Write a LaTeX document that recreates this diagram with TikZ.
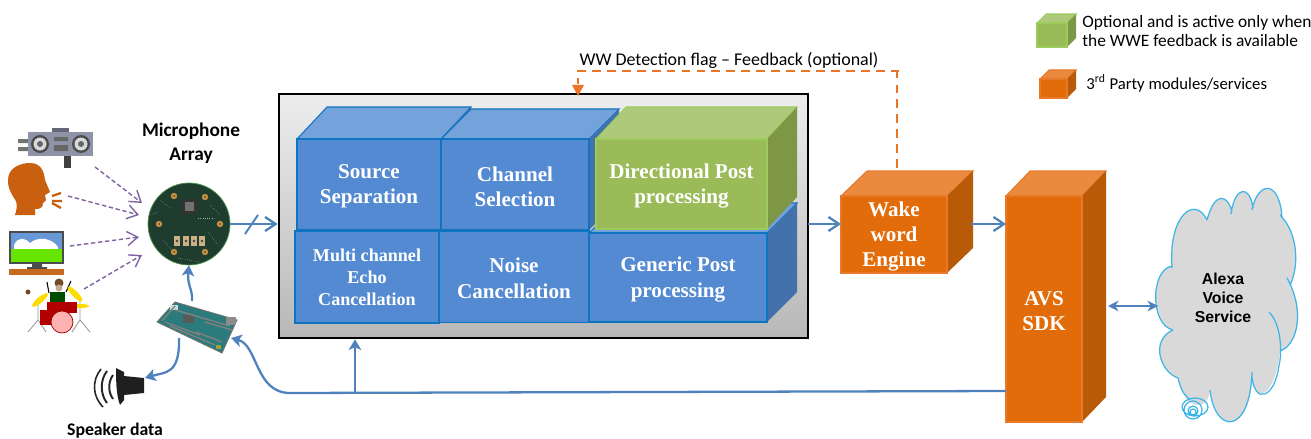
\documentclass[tikz,border=0pt]{standalone}
\usepackage{fontspec}
\setmainfont{Liberation Serif}
\newfontfamily\calib{Carlito}
\newfontfamily\hsans{Liberation Sans}
\usetikzlibrary{arrows.meta,calc}
\definecolor{bluF}{HTML}{538AD2}\definecolor{bluT}{HTML}{74A3DC}\definecolor{bluS}{HTML}{4271AB}\definecolor{bluE}{HTML}{0F74C0}
\definecolor{grnF}{HTML}{9BBB59}\definecolor{grnT}{HTML}{AFC97A}\definecolor{grnS}{HTML}{7D9744}\definecolor{grnE}{HTML}{9CCC5C}
\definecolor{ornF}{HTML}{E36C0A}\definecolor{ornT}{HTML}{E98A3E}\definecolor{ornS}{HTML}{B85A08}\definecolor{ornE}{HTML}{E8782A}
\definecolor{lnk}{HTML}{4F81BD}\definecolor{prp}{HTML}{8064A2}\definecolor{dsh}{HTML}{E97525}
\definecolor{cldE}{HTML}{3DB5E6}\definecolor{cldF}{HTML}{D9D9D9}
\definecolor{pcb}{HTML}{1F3D2E}\definecolor{pad}{HTML}{C9913C}\definecolor{brd}{HTML}{2B7B7C}\definecolor{hd}{HTML}{C8600F}
\definecolor{boomB}{HTML}{8E93A8}
\tikzset{
  link/.style={draw=lnk,line width=1.3pt,-{Straight Barb[length=6pt,width=8pt]}},
  curvelink/.style={draw=lnk,line width=1.3pt,-{Stealth[length=6pt,width=7pt,inset=1.5pt]}},
  mix/.style={draw=prp,line width=.8pt,dash pattern=on 2.5pt off 1.5pt,-{Straight Barb[length=6pt,width=8pt]}},
  flag/.style={draw=dsh,line width=1.4pt,dash pattern=on 5pt off 3.5pt},
  blocklabel/.style={font=\fontsize{12}{14.4}\selectfont\bfseries,text=white,align=center,inner sep=0pt},
  legendtext/.style={font=\calib\fontsize{9.9}{10.9}\selectfont,anchor=west,align=left,inner sep=0pt},
  headlabel/.style={font=\calib\bfseries\fontsize{11}{13.6}\selectfont,align=center,inner sep=0pt}
}
% name x1 y1 x2 y2 dx dy colourprefix text
\newcommand{\cubeN}[9]{%
  \fill[#8T,draw=#8E,line width=.6pt] (#2,#3)--(#2+#6,#3-#7)--(#4+#6,#3-#7)--(#4,#3)--cycle;
  \fill[#8S] (#4,#3)--(#4+#6,#3-#7)--(#4+#6,#5-#7)--(#4,#5)--cycle;
  \node[fill=#8F,draw=#8E,line width=.7pt,inner sep=0pt,
        minimum width={(#4-#2)*0.02cm},minimum height={(#5-#3)*0.02cm}] (#1) at ({(#2+#4)/2},{(#3+#5)/2}) {};
  \node[blocklabel] (#1text) at ([yshift=-1.2pt]#1.center) {#9};
}
\begin{document}
\begin{tikzpicture}[x=0.02cm,y=-0.02cm]
\useasboundingbox (0,0) rectangle (1311,439);
% container
\node[draw=black,line width=1.5pt,top color=black!7,bottom color=black!28,inner sep=0pt,
      minimum width={529*0.02cm},minimum height={244*0.02cm}] (frame) at (543.5,216) {};
% blocks
\cubeN{gen}{589}{233}{767}{322}{30}{30}{blu}{Generic Post\\processing}
\cubeN{src}{297}{139}{441}{230}{30}{32}{blu}{Source\\Separation}
\cubeN{chan}{441}{139}{589}{230}{30}{30}{blu}{Channel\\Selection}
\cubeN{dir}{596}{139}{767}{229}{30}{32}{grn}{Directional Post\\processing}
\node[fill=bluF,draw=bluE,line width=.7pt,minimum width={150*0.02cm},minimum height={91*0.02cm},inner sep=0pt] (noise) at (514,277) {};
\node[blocklabel] (noisetext) at ([yshift=-.8pt]noise.center) {Noise\\Cancellation};
\node[fill=bluF,draw=bluE,line width=.7pt,inner sep=0pt,blocklabel,font=\fontsize{10.3}{12.6}\selectfont\bfseries,minimum width={144*0.02cm},minimum height={92*0.02cm}] (echo) at (367,277) {Multi channel\\Echo\\Cancellation};
\cubeN{wwe}{841}{196}{947}{273}{26}{25}{orn}{\fontsize{12}{14.8}\selectfont Wake\\word\\Engine}
\cubeN{avs}{1006}{196}{1082}{422}{24}{25}{orn}{AVS\\SDK}
% cloud
\path[fill=cldF] (1207,220) .. controls (1215,190) and (1228,195) .. (1232,212)
 .. controls (1235,185) and (1250,185) .. (1253,208)
 .. controls (1258,180) and (1280,180) .. (1282,218)
 .. controls (1300,235) and (1298,270) .. (1290,285)
 .. controls (1305,310) and (1298,345) .. (1280,351)
 .. controls (1275,398) and (1255,405) .. (1252,377)
 .. controls (1250,435) and (1215,435) .. (1210,390)
 .. controls (1208,412) and (1185,412) .. (1178,378)
 .. controls (1160,372) and (1150,340) .. (1173,330)
 .. controls (1150,325) and (1150,270) .. (1172,266)
 .. controls (1168,215) and (1195,195) .. (1207,220) -- cycle;
\draw[cldE,line width=.7pt] (1207,220) .. controls (1215,190) and (1228,195) .. (1232,212)
 (1231,214) .. controls (1235,185) and (1250,185) .. (1253,208)
 (1252,210) .. controls (1258,180) and (1280,180) .. (1282,218)
 (1280,215) .. controls (1300,235) and (1298,270) .. (1290,285)
 (1287,278) .. controls (1305,310) and (1298,345) .. (1280,351)
 (1269,312) .. controls (1282,325) and (1282,355) .. (1279,365)
 .. controls (1275,398) and (1255,405) .. (1252,377)
 (1252,372) .. controls (1250,435) and (1215,435) .. (1210,390)
 (1178,378) .. controls (1160,372) and (1150,340) .. (1173,330)
 (1173,330) .. controls (1150,325) and (1150,270) .. (1172,266)
 (1172,268) .. controls (1168,215) and (1195,195) .. (1207,220)
 (1178,378) .. controls (1182,395) and (1186,395) .. (1190,400);
\draw[cldE,line width=.7pt] (1195,407) ellipse (13 and 9) (1193,410) circle (9) (1193,411) circle (5) (1193,412) circle (3);
\node[font=\hsans\bfseries\fontsize{9}{11}\selectfont,align=center,inner sep=0pt] (alexa) at (1223,298) {Alexa\\Voice\\Service};
% microphone array
\node[circle,fill=pcb,draw=black!30!green!40!gray,line width=.4pt,minimum size={82*0.02cm},inner sep=0pt] (mic) at (189,224) {};
\foreach \px/\py in {174/196,220/224,205/252,174/252,159/224,205/197}{\fill[pad] (\px,\py) circle (3.2);\fill[black!70] (\px,\py) circle (1);}
\fill[black!80] (182,199) rectangle (197,214);\fill[black!55] (185,202) rectangle (194,211);
\foreach \bx in {177,186,194,202}{\fill[black!15!pad!60!white] (\bx-3,236) rectangle (\bx+3,246);\fill[black!75] (\bx,241) circle (1.4);}
\foreach \sx/\sy/\ex/\ey in {160/200/170/208,210/205/220/215,163/240/172/250,208/232/218/245,150/215/158/212,178/258/200/262,198/218/214/218}{\draw[white!60!pcb,line width=.3pt,densely dotted] (\sx,\sy)--(\ex,\ey);}
\node[headlabel] (miclabel) at (191,143) {Microphone\\Array};
% sources: boombox
\coordinate (boom) at (95,167);
\fill[black!55] (18,139) rectangle (29,143) (18,147) rectangle (29,151);
\fill[boomB!70!black] (52,128) rectangle (69,133);
\fill[boomB] (28,132) rectangle (93,156);
\foreach \cx in {40,81}{\fill[black!70] (\cx,144) circle (9);\fill[black!15] (\cx,144) circle (6.5);\fill[black!60] (\cx,144) circle (3);}
\fill[black!60] (54,137) rectangle (68,141) (54,145) rectangle (68,151);
\fill[black!75] (64,156) rectangle (71,168);
% head
\coordinate (head) at (68,196);
\fill[hd] (15,215) .. controls (18,205) and (17,202) .. (14,198) .. controls (9,190) and (8,186) .. (8,180) .. controls (8,168) and (20,163) .. (30,163)
 .. controls (40,163) and (44,170) .. (45,180) -- (50,192) -- (45,195) -- (46,200) -- (43,203) .. controls (43,208) and (40,209) .. (35,209) -- (35,215) -- cycle;
\draw[hd,line width=1.3pt] (52,196)--(61,193) (52,201)--(62,201) (52,203)--(61,208);
% tv
\coordinate (tv) at (70,246);
\fill[black!70] (9,231) rectangle (64,264);
\fill[white!55!cyan!70!blue] (11,233) rectangle (62,250);
\fill[white] (14,245) .. controls (18,236) and (26,238) .. (30,243) .. controls (38,236) and (52,238) .. (58,247) -- (58,250) -- (14,250) -- cycle;
\fill[green!55!yellow!90!black] (11,249) rectangle (62,262);
\fill[black!70] (32,264) rectangle (42,267) (27,267) rectangle (47,269);
\fill[hd!70!brown] (9,269) rectangle (64,275);
% drummer
\coordinate (drum) at (84,289);
\draw[black!40,line width=.5pt] (38,300)--(38,320)--(28,332) (38,320)--(46,332) (80,300)--(80,320)--(72,332) (80,320)--(90,332);
\draw[black,line width=.6pt] (49,293)--(47,282) (66,292)--(71,281);
\fill[yellow!80!orange,rotate around={40:(40,300)}] (40,300) ellipse (10 and 3);
\fill[yellow!80!orange,rotate around={-45:(75,294)}] (75,294) ellipse (10 and 3);
\fill[yellow!80!orange] (81,306) ellipse (8 and 2);
\fill[brown!60!black] (28,292) circle (2.5);
\fill[brown!60!black] (59,283) circle (4.5);\fill[black!30!brown!50!white] (59,288) circle (3.5);
\fill[black!70!green] (50,292) rectangle (65,302);
\fill[red!70!black] (47,302) rectangle (77,313);
\fill[red!70!black] (40,310) rectangle (55,325);
\fill[red!30!white,draw=red!60!black,line width=.4pt] (62,322) circle (11);
% board
\coordinate (brdTop) at (192,301);
\coordinate (brdLeft) at (179,338);
\coordinate (brdRight) at (231,338);
\fill[brd,draw=black!55,line width=.5pt] (157,322)--(175,302)--(237,320)--(222,353)--cycle;
\fill[black!65] (183,315) rectangle (194,323);
\fill[white!75!brd] (170,305) rectangle (178,310);
\foreach \qx/\qy/\rx/\ry in {165/322/200/335,175/310/230/326,170/326/215/345,205/322/232/330,196/332/222/342,162/321/175/306}{\draw[black!50,line width=.8pt] (\qx,\qy)--(\rx,\ry);}
\fill[black!45] (226,317) rectangle (236,325);
\fill[yellow!60!black] (216,345) rectangle (221,349);
% speaker
\coordinate (spk) at (145,378);
\fill[black!88] (116,368) -- (124,372) -- (124,376) -- (144,378) -- (144,393) -- (124,395) -- (124,400) -- (120,405) .. controls (116,395) and (116,378) .. (116,368) -- cycle;
\draw[black!85,line width=1.1pt] (113,375) .. controls (108,382) and (108,392) .. (113,399)
 (107,371) .. controls (100,380) and (100,394) .. (107,403);
\draw[black!85,line width=.9pt] (101,369) .. controls (92,380) and (92,396) .. (103,407);
\node[headlabel,font=\calib\bfseries\fontsize{10.1}{11}\selectfont] (spklabel) at (115,431) {Speaker data};
% connectors
\draw[mix] (boom)--(142,203);
\draw[mix] (head)--(139,215);
\draw[mix] (tv)--(139,237);
\draw[mix] (drum)--(142,255);
\coordinate (frameIn) at (frame.west);
\coordinate (micOut) at (mic.east);
\draw[link] (micOut)--(frameIn|-micOut);
\draw[draw=lnk,line width=1.1pt] (245,234)--(258,215);
\draw[curvelink] (brdTop) .. controls (193,290) and (187,285) .. (mic.south);
\draw[curvelink] (brdLeft) .. controls (180,375) and (165,372) .. (spk);
\coordinate (avsOut) at (1006,391);
\coordinate (busTap) at (355,392);
\draw[curvelink] (avsOut)--(290,393) .. controls (255,393) and (258,345) .. (brdRight);
\draw[curvelink] (busTap)--(frame.south-|busTap);
\coordinate (wweIn) at (841,224);
\coordinate (wweOut) at (971,224);
\coordinate (avsIn) at (1006,224);
\draw[link] (808,224)--(wweIn);
\draw[link] (wweOut)--(avsIn);
\coordinate (avsCloud) at (1108,306);
\coordinate (cloudIn) at (1158,306);
\draw[draw=lnk,line width=1.3pt,{Stealth[length=6pt,width=6pt]}-{Stealth[length=6pt,width=6pt]}] (avsCloud)--(cloudIn);
\coordinate (wweTop) at (897,168);
\coordinate (flagIn) at (578,94);
\draw[flag] (wweTop)--(897,71)--(902,71)--(578,71)--(578,84);
\fill[dsh] (572,85)--(584,85)--(578,96)--cycle;
\node[legendtext,font=\calib\fontsize{10.2}{12}\selectfont,anchor=center] (flagtext) at (729,60) {WW Detection flag – Feedback (optional)};
% legend
\cubeN{leggrn}{1037}{23}{1067}{47}{9}{9}{grn}{}
\cubeN{legorn}{1040}{79}{1067}{98}{9}{9}{orn}{}
\node[legendtext] (legtext1) at (1082,31) {Optional and is active only when\\the WWE feedback is available};
\node[legendtext,font=\calib\fontsize{9.5}{10.9}\selectfont] (legtext2) at (1086,83) {3\textsuperscript{rd}\ Party modules/services};
\end{tikzpicture}
\end{document}
